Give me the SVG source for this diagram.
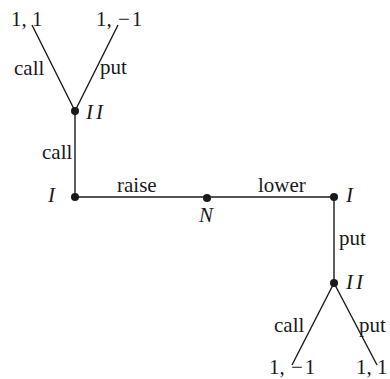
<svg xmlns="http://www.w3.org/2000/svg" width="390" height="379" viewBox="0 0 390 379">
<style>
text{font-family:"Liberation Serif","Times New Roman",serif;font-size:21px;fill:#1a1a1a}
.m{font-style:italic}
.e{stroke:#1a1a1a;stroke-width:1.4;fill:none}
.d{fill:#1a1a1a}
</style>
<rect width="390" height="379" fill="#fff"/>
<g id="connectors">
<line class="e" x1="32" y1="25" x2="75" y2="111"/>
<line class="e" x1="118" y1="25" x2="75" y2="111"/>
<line class="e" x1="75" y1="111" x2="75" y2="197"/>
<line class="e" x1="75" y1="197" x2="334" y2="197"/>
<line class="e" x1="334" y1="197" x2="334" y2="283"/>
<line class="e" x1="334" y1="283" x2="292" y2="365"/>
<line class="e" x1="334" y1="283" x2="377" y2="365"/>
<text x="14" y="75">call</text>
<text x="100" y="74">put</text>
<text x="42" y="159">call</text>
<text x="117" y="192">raise</text>
<text x="258" y="192">lower</text>
<text x="339" y="245">put</text>
<text x="274" y="332">call</text>
<text x="359" y="332">put</text>
</g>
<g id="leaf1"><text x="11" y="26">1, 1</text></g>
<g id="leaf2"><text x="96" y="26">1, <tspan dx="1">−</tspan><tspan dx="2">1</tspan></text></g>
<g id="nodeII-top"><circle class="d" cx="75" cy="111" r="4"/><text class="m" x="86" y="119">I<tspan dx="3">I</tspan></text></g>
<g id="nodeI-left"><circle class="d" cx="75" cy="197" r="4"/><text class="m" x="48" y="202">I</text></g>
<g id="nodeN"><circle class="d" cx="207" cy="198" r="4"/><text class="m" x="199" y="222">N</text></g>
<g id="nodeI-right"><circle class="d" cx="334" cy="197" r="4"/><text class="m" x="346" y="202">I</text></g>
<g id="nodeII-bottom"><circle class="d" cx="334" cy="283" r="4"/><text class="m" x="346" y="289">I<tspan dx="3">I</tspan></text></g>
<g id="leaf3"><text x="269" y="374">1, <tspan dx="1">−</tspan><tspan dx="2">1</tspan></text></g>
<g id="leaf4"><text x="356" y="374">1, 1</text></g>
</svg>
